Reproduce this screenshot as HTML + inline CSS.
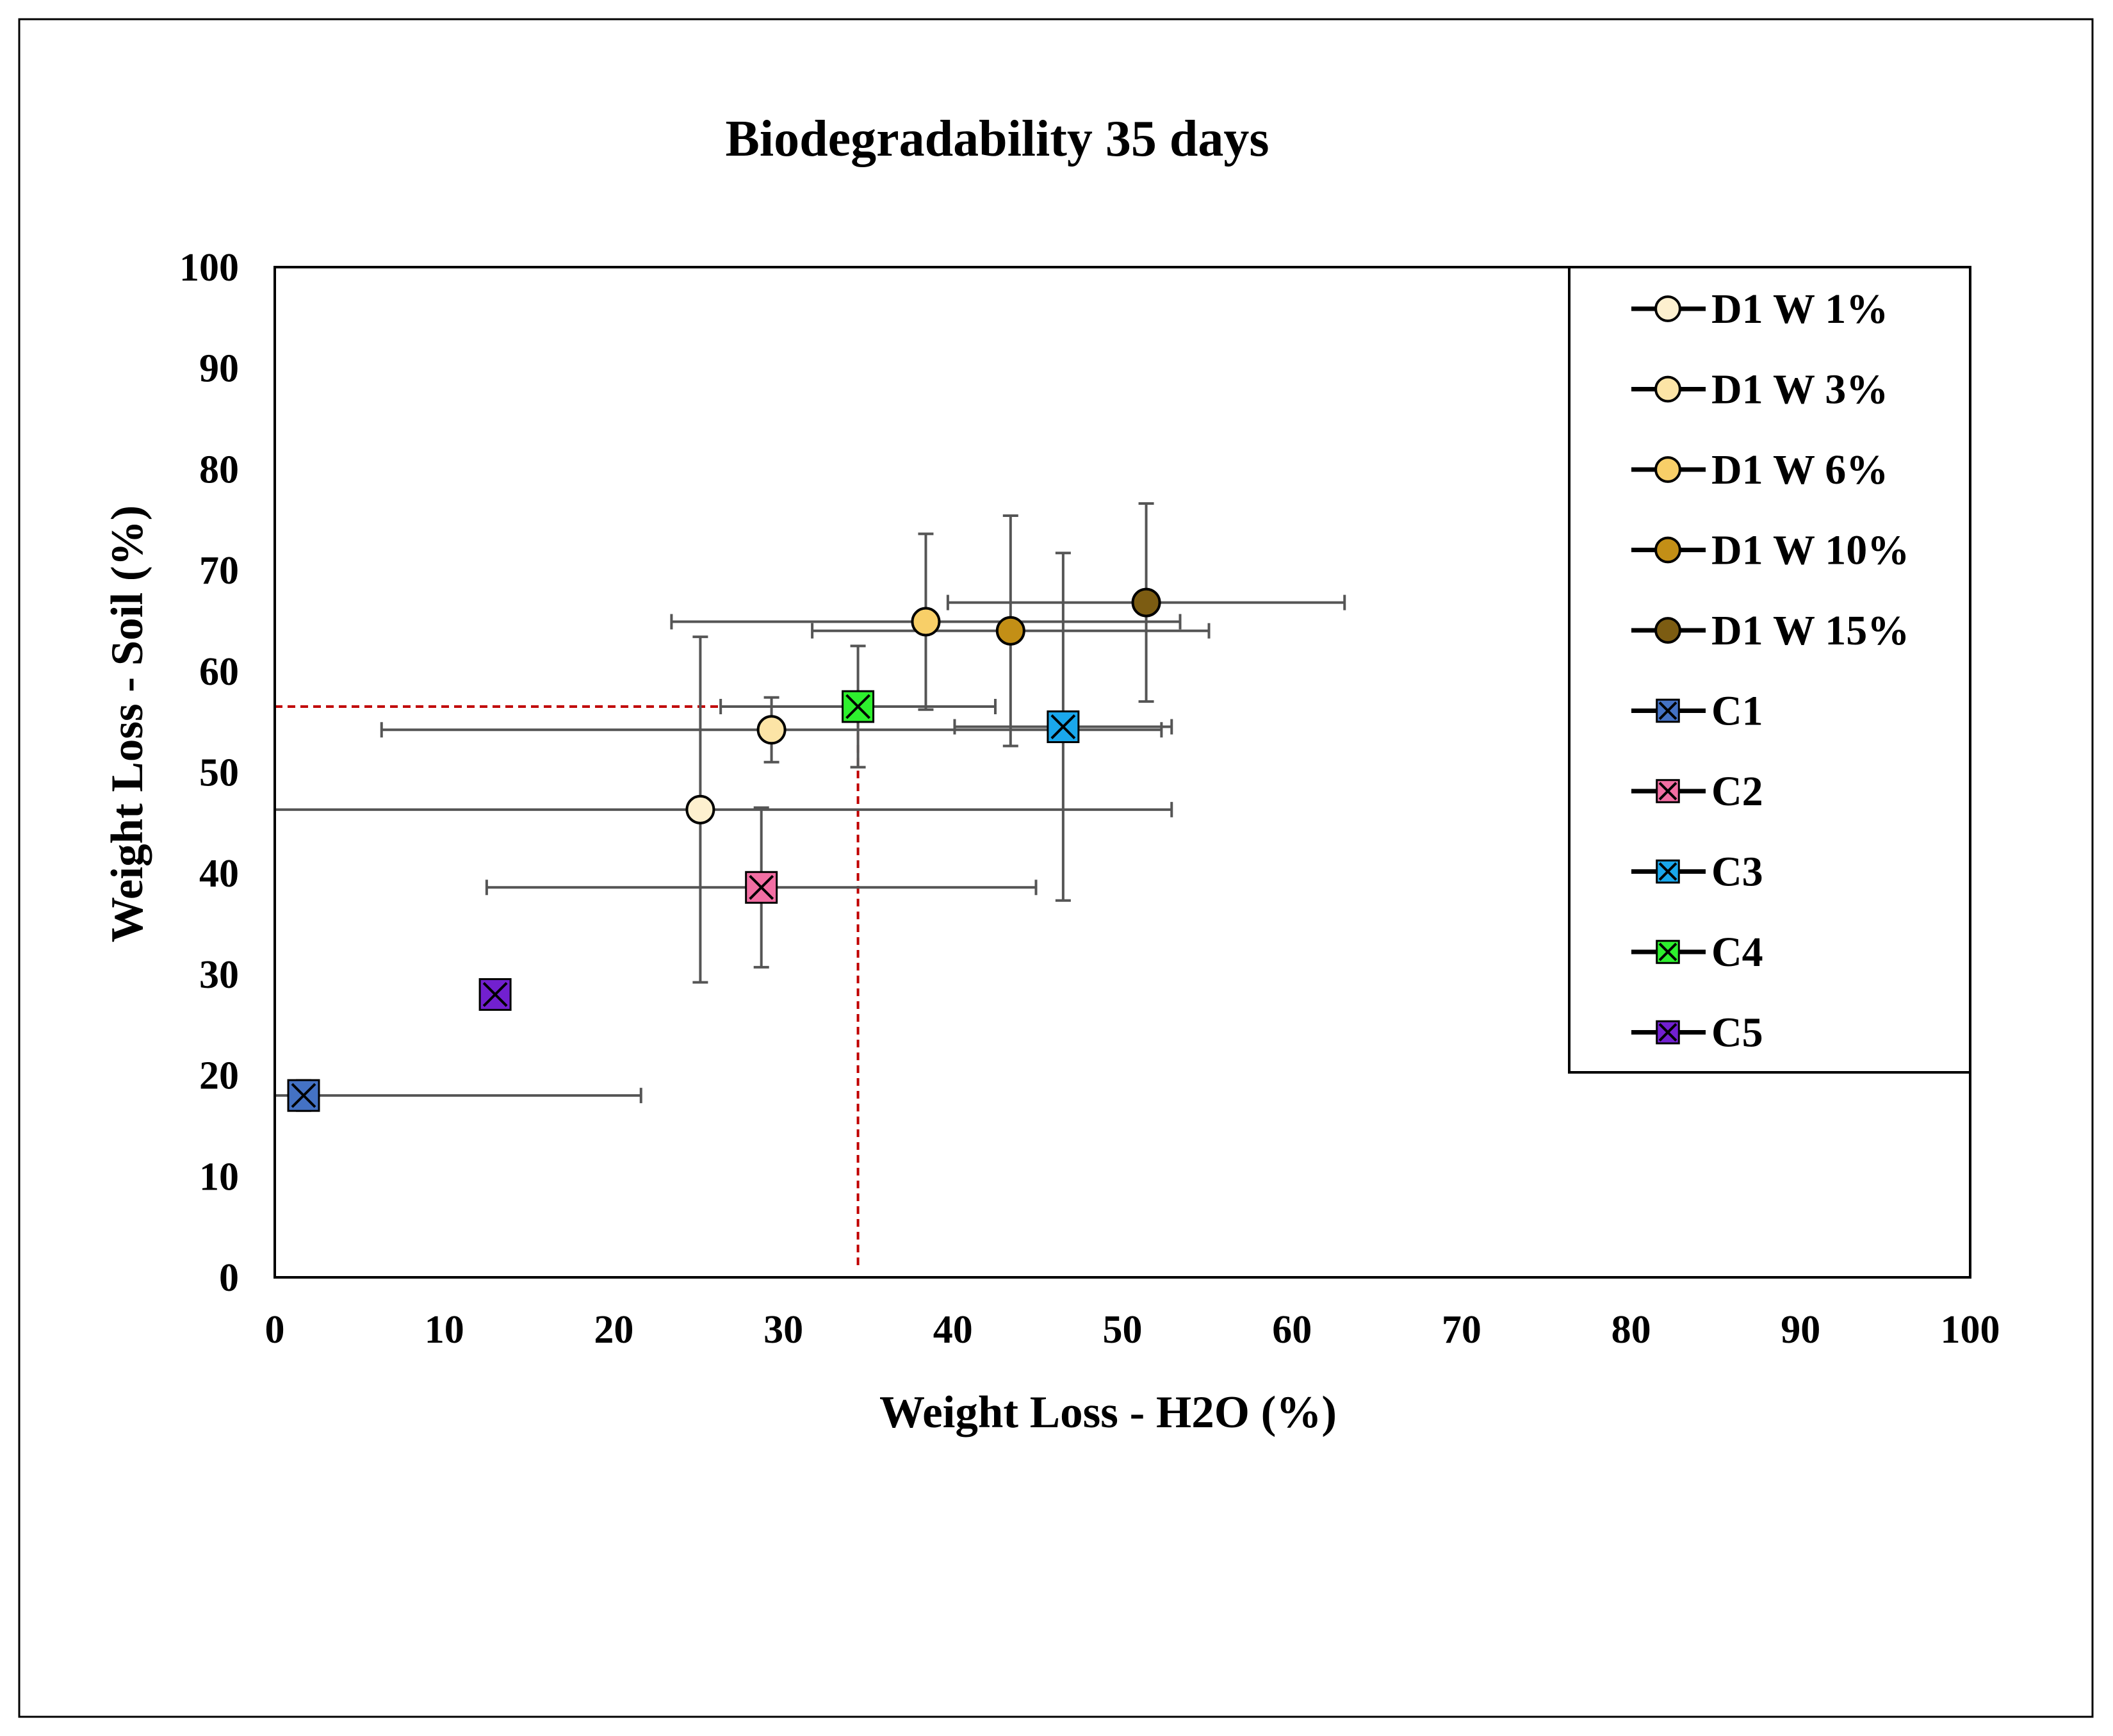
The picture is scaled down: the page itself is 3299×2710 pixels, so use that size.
<!DOCTYPE html>
<html><head><meta charset="utf-8"><style>
html,body{margin:0;padding:0;background:#fff}
svg{display:block}
text{font-family:"Liberation Serif",serif;font-weight:bold;fill:#000}
</style></head><body>
<svg id="chart" width="3299" height="2710" viewBox="0 0 3299 2710">
<rect x="30" y="30" width="3237" height="2650" fill="#fff" stroke="#000" stroke-width="3"/>
<text x="1557" y="243" font-size="80" text-anchor="middle">Biodegradability 35 days</text>
<g id="grid"></g>
<g id="refs"></g>
<g id="errs"></g>
<g id="marks"></g>
<rect x="429" y="417" width="2647" height="1577" fill="none" stroke="#000" stroke-width="4"/>
<g id="ticks"></g>
<text x="1730" y="2228" font-size="71" text-anchor="middle">Weight Loss - H2O (%)</text>
<text transform="translate(222,1130) rotate(-90)" font-size="71" text-anchor="middle">Weight Loss - Soil (%)</text>
<rect x="2450" y="417" width="626" height="1257" fill="#fff" stroke="#000" stroke-width="4"/>
<g id="legend"></g>
</svg>
<script>
const seriesNames=["D1 W 1%","D1 W 3%","D1 W 6%","D1 W 10%","D1 W 15%","C1","C2","C3","C4","C5"];
const xValues=[25.1,29.3,38.4,43.4,51.4,1.7,28.7,46.5,34.4,13.0];
const yValues=[46.3,54.2,64.9,64.0,66.8,18.0,38.6,54.5,56.5,28.0];
const xErrors=[27.8,23.0,15.0,11.7,11.7,19.9,16.2,6.4,8.1,0];
const yErrors=[17.1,3.2,8.7,11.4,9.8,1.5,7.9,17.2,6.0,0];
const colors=["#fdf0cf","#fce4a6","#f8cf68","#c38f16","#7c5c12","#4472c4","#f26ea3","#1aa7ec","#2ef02e","#7220d0"];
const shapes=["c","c","c","c","c","x","x","x","x","x"];
const ticks=[0,10,20,30,40,50,60,70,80,90,100];
const refPoint=[34.4,56.5];
const NS="http://www.w3.org/2000/svg";
const X0=429,X1=3076,Y0=1994,Y1=417;
const sx=v=>X0+(X1-X0)*v/100, sy=v=>Y0-(Y0-Y1)*v/100;
const clx=v=>Math.max(0,Math.min(100,v));
function mk(p,tag,attrs){const e=document.createElementNS(NS,tag);for(const k in attrs)e.setAttribute(k,attrs[k]);p.appendChild(e);return e;}
const tk=document.getElementById('ticks');
ticks.forEach(t=>{
 let a=mk(tk,'text',{x:sx(t),y:2096,'font-size':62,'text-anchor':'middle'});a.textContent=t;
 
 
 let b=mk(tk,'text',{x:373,y:sy(t)+21,'font-size':62,'text-anchor':'end'});b.textContent=t;
 
 
});
const rf=document.getElementById('refs');
let r1=mk(rf,'line',{x1:sx(0),y1:sy(refPoint[1]),x2:sx(refPoint[0]),y2:sy(refPoint[1]),stroke:'#c00000','stroke-width':4,'stroke-dasharray':'12,8'});


let r2=mk(rf,'line',{x1:sx(refPoint[0]),y1:sy(refPoint[1]),x2:sx(refPoint[0]),y2:sy(0)-12,stroke:'#c00000','stroke-width':4,'stroke-dasharray':'12,8'});


const eg=document.getElementById('errs'), mg=document.getElementById('marks');
function drawMarker(g,cx,cy,i,scale){
 if(shapes[i]==='c'){
  return mk(g,'circle',{cx:cx,cy:cy,r:21*scale,fill:colors[i],stroke:'#000','stroke-width':4});
 }
 const s=24*scale,gg=mk(g,'g',{});
 mk(gg,'rect',{x:cx-s,y:cy-s,width:2*s,height:2*s,fill:colors[i],stroke:'#000','stroke-width':3});
 mk(gg,'path',{d:`M${cx-s*0.75},${cy-s*0.75}L${cx+s*0.75},${cy+s*0.75}M${cx+s*0.75},${cy-s*0.75}L${cx-s*0.75},${cy+s*0.75}`,stroke:'#000','stroke-width':4});
 return gg;
}
seriesNames.forEach((n,i)=>{
 const cx=sx(xValues[i]),cy=sy(yValues[i]);
 if(xErrors[i]>0){
  const g=mk(eg,'g',{stroke:'#555','stroke-width':4});
  
  
  const lo=xValues[i]-xErrors[i],hi=xValues[i]+xErrors[i];
  mk(g,'line',{x1:sx(clx(lo)),y1:cy,x2:sx(clx(hi)),y2:cy});
  if(lo>=0)mk(g,'line',{x1:sx(lo),y1:cy-12,x2:sx(lo),y2:cy+12});
  if(hi<=100)mk(g,'line',{x1:sx(hi),y1:cy-12,x2:sx(hi),y2:cy+12});
 }
 if(yErrors[i]>0){
  const g=mk(eg,'g',{stroke:'#555','stroke-width':4});
  
  
  const lo=yValues[i]-yErrors[i],hi=yValues[i]+yErrors[i];
  mk(g,'line',{x1:cx,y1:sy(lo),x2:cx,y2:sy(hi)});
  mk(g,'line',{x1:cx-12,y1:sy(lo),x2:cx+12,y2:sy(lo)});
  mk(g,'line',{x1:cx-12,y1:sy(hi),x2:cx+12,y2:sy(hi)});
 }
 const m=drawMarker(mg,cx,cy,i,1);
 
 
});
const lg=document.getElementById('legend');
seriesNames.forEach((n,i)=>{
 const y=482+i*125.5;
 const g=mk(lg,'g',{});
 
 
 mk(g,'line',{x1:2547,y1:y,x2:2663,y2:y,stroke:'#000','stroke-width':7});
 drawMarker(g,2604,y,i,shapes[i]==='c'?0.9:0.72);
 const t=mk(g,'text',{x:2672,y:y+22,'font-size':66});t.textContent=n;
});
</script>
</body></html>
